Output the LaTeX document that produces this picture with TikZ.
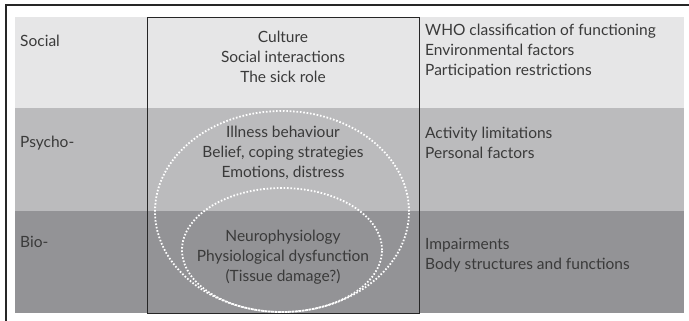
\documentclass[tikz,border=0pt]{standalone}
\usepackage{fontspec}
\setmainfont{Lato}
\usepackage{tikz}
\usetikzlibrary{shapes.geometric, positioning}

\definecolor{socialgray}{HTML}{E6E6E7}
\definecolor{psychogray}{HTML}{BBBBBD}
\definecolor{biogray}{HTML}{939396}
\definecolor{textgray}{HTML}{3A3A3A}

\begin{document}
\begin{tikzpicture}[
    x=1pt, y=-1pt,
    level/.style={anchor=west, text=textgray, font=\fontsize{15.5}{20}\selectfont, inner sep=0pt},
    factors/.style={align=center, text=textgray, font=\fontsize{15.5}{20}\selectfont, inner sep=0pt},
    who/.style={anchor=west, align=left, text=textgray, font=\fontsize{15.5}{20}\selectfont, inner sep=0pt},
    ring/.style={ellipse, draw=white, line width=1.8pt, dash pattern=on 1.6pt off 1.8pt, inner sep=0pt}
]
\useasboundingbox (0,0) rectangle (689,321);

% frame lines and the three level bands
\draw[line width=1.1pt, black!85] (6,321) -- (6,5) -- (689,5);
\fill[socialgray] (15,17) rectangle (684,108);
\fill[psychogray] (15,108) rectangle (684,211);
\fill[biogray] (15,211) rectangle (684,313);

% central column
\node[draw=black!85, line width=0.9pt, minimum width=272pt, minimum height=296pt, inner sep=0pt] (col) at (283,165) {};

% nested rings
\node[ring, minimum width=254pt, minimum height=201pt] (outerring) at (282,211.5) {};
\node[ring, minimum width=200pt, minimum height=124pt] (innerring) at (282,250) {};

% level names
\node[level] (social) at (20,41) {Social};
\node[level] (psycho) at (20,143) {Psycho-};
\node[level] (bio) at (20,242) {Bio-};

% factors per level
\node[factors] (socfac) at (283,57) {Culture\\Social interactions\\The sick role};
\node[factors] (psyfac) at (283,153) {Illness behaviour\\Belief, coping strategies\\Emotions, distress};
\node[factors] (biofac) at (283,257) {Neurophysiology\\Physiological dysfunction\\(Tissue damage?)};

% WHO terms
\node[who] (socwho) at (425,51) {WHO classification of functioning\\Environmental factors\\Participation restrictions};
\node[who] (psywho) at (425,143) {Activity limitations\\Personal factors};
\node[who] (biowho) at (425,255) {Impairments\\Body structures and functions};

\end{tikzpicture}
\end{document}
